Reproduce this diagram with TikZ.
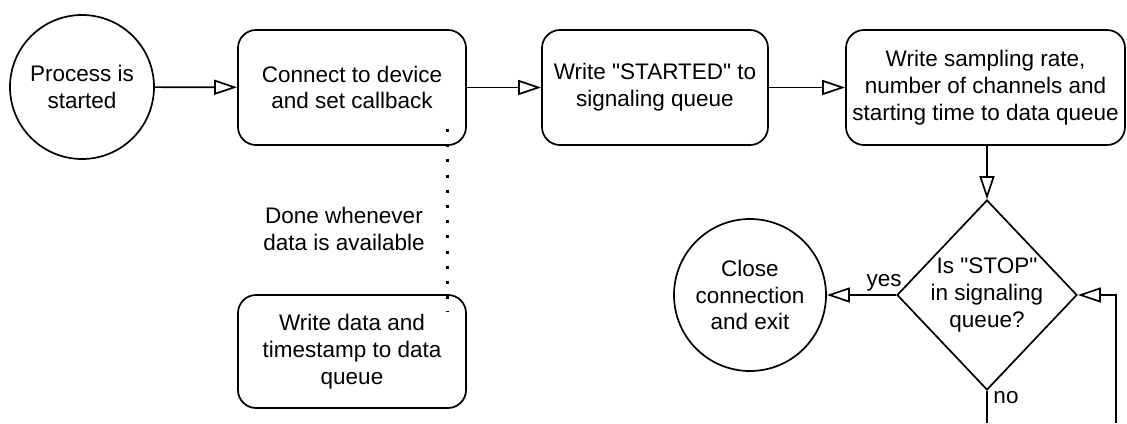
\documentclass[tikz,border=0pt]{standalone}
\usepackage{fontspec}
\setmainfont{Liberation Sans}
\usetikzlibrary{arrows.meta,shapes.geometric}
\begin{document}
\begin{tikzpicture}[x=1pt,y=-1pt,
  every node/.style={font=\fontsize{22.5}{26.8}\selectfont, align=center},
  line/.style={line width=1.7pt},
  flow/.style={line, -{Triangle[open,length=23pt,width=15pt,line width=1.7pt]}},
  roundbox/.style={draw, line width=1.7pt, rounded corners=18pt, inner sep=0pt},
  circ/.style={draw, circle, line width=1.7pt, inner sep=0pt},
  dec/.style={draw, diamond, line width=1.7pt, inner sep=0pt, minimum width=180pt, minimum height=190pt},
  lbl/.style={inner sep=0pt}
]
\useasboundingbox (0,0) rectangle (1127,423);
\node[circ, minimum size=144pt] (start) at (82,87) {Process is\\started};
\node[roundbox, minimum width=228pt, minimum height=115pt] (connect) at (352,87.5) {Connect to device\\and set callback};
\node[roundbox, minimum width=226pt, minimum height=115pt] (started) at (655,87.5) {Write \textquotedbl STARTED\textquotedbl{} to\\signaling queue};
\node[roundbox, minimum width=279pt, minimum height=115pt] (sampling) at (985.5,87.5) {Write sampling rate,\\number of channels and\\starting time to data queue};
\node[dec, label={[align=center,inner sep=0pt]center:Is \textquotedbl STOP\textquotedbl\\in signaling\\queue?}] (decision) at (987,295) {};
\node[circ, minimum size=152pt] (close) at (750,295) {Close\\connection\\and exit};
\node[roundbox, minimum width=228pt, minimum height=113pt] (writedata) at (352,351.5) {Write data and\\timestamp to data\\queue};
\node[lbl] (done) at (344,229) {Done whenever\\data is available};
\node[lbl] (yes) at (884,283) {yes};
\node[lbl] (no) at (1006,398) {no};
\coordinate (d1) at (447,129);
\coordinate (d2) at (447,312);
\coordinate (nobottom) at (987,423);
\coordinate (loopbottom) at (1116,423);
\coordinate (loopcorner) at (1116,295);

\draw[flow] (start) -- (connect);
\draw[flow] (connect) -- (started);
\draw[flow] (started) -- (sampling);
\draw[flow] (sampling.south -| decision.north) -- (decision);
\draw[flow] (decision) -- (close);
\draw[line] (decision.south) -- (nobottom);
\draw[flow] (loopbottom) -- (loopcorner) -- (decision.east);
\draw[line width=3pt, dash pattern=on 3pt off 12.2pt] (d1) -- (d2);
\end{tikzpicture}
\end{document}
